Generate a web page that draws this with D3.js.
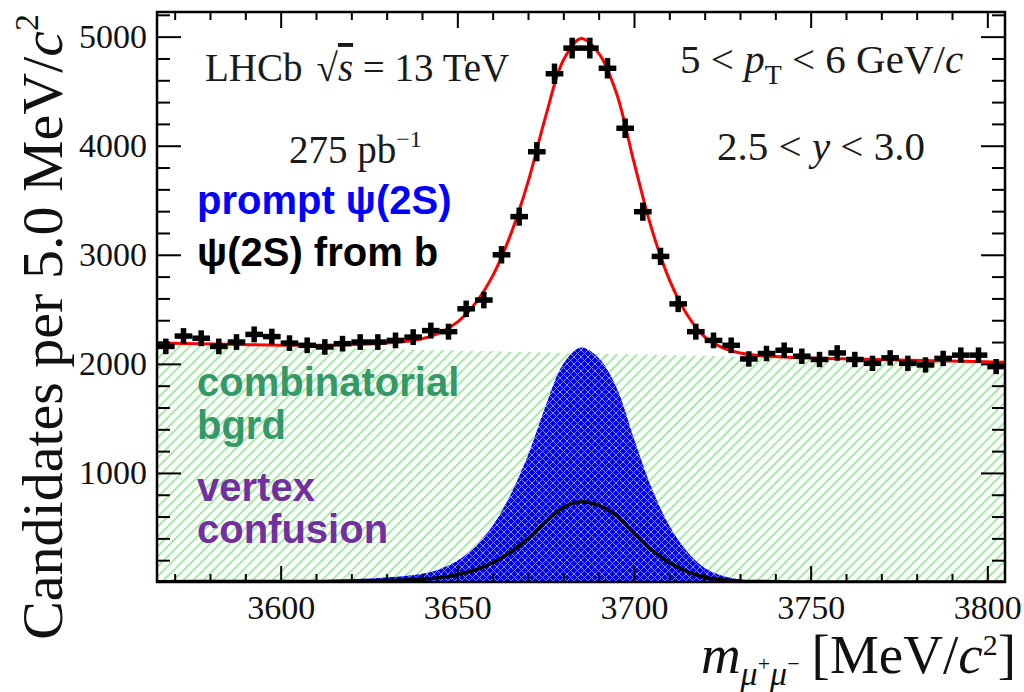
<!DOCTYPE html>
<html>
<head>
<meta charset="utf-8">
<script src="https://cdn.jsdelivr.net/npm/d3@7"></script>
<style>
  body { margin: 0; background: #fff; }
</style>
</head>
<body>
<div id="chart"></div>
<script>
// measured bins, 5 MeV wide
const binCenters = [3567.5, 3572.5, 3577.5, 3582.5, 3587.5, 3592.5, 3597.5, 3602.5, 3607.5, 3612.5,
    3617.5, 3622.5, 3627.5, 3632.5, 3637.5, 3642.5, 3647.5, 3652.5, 3657.5, 3662.5,
    3667.5, 3672.5, 3677.5, 3682.5, 3687.5, 3692.5, 3697.5, 3702.5, 3707.5, 3712.5,
    3717.5, 3722.5, 3727.5, 3732.5, 3737.5, 3742.5, 3747.5, 3752.5, 3757.5, 3762.5,
    3767.5, 3772.5, 3777.5, 3782.5, 3787.5, 3792.5, 3797.5, 3802.5];
const counts = [2160, 2255, 2235, 2160, 2200, 2270, 2250, 2190, 2170, 2155,
    2185, 2200, 2200, 2215, 2245, 2305, 2295, 2505, 2585, 3000,
    3350, 3945, 4660, 4895, 4895, 4710, 4160, 3395, 2985, 2550,
    2295, 2215, 2170, 2045, 2095, 2125, 2070, 2040, 2100, 2040,
    2005, 2055, 2005, 1990, 2050, 2080, 2080, 1975];

// fit components, sampled along the mass axis
const modelMass = [3565, 3585, 3605, 3625, 3635, 3640, 3645, 3650, 3655, 3660,
    3665, 3670, 3675, 3680, 3685, 3690, 3695, 3700, 3705, 3710,
    3715, 3720, 3725, 3730, 3735, 3745, 3765, 3785, 3805];
const bkgCurve = [2180, 2166, 2153, 2139, 2132, 2129, 2125, 2122, 2118, 2115,
    2111, 2108, 2105, 2101, 2098, 2094, 2091, 2087, 2084, 2081,
    2077, 2074, 2070, 2067, 2063, 2056, 2043, 2029, 2015];
const promptCurve = [9, 11, 13, 32, 54, 75, 118, 194, 323, 516,
    796, 1161, 1613, 2000, 2150, 2053, 1785, 1312, 860, 516,
    280, 129, 58, 24, 11, 2, 0, 0, 0];
const fromBCurve = [3, 4, 4, 11, 18, 26, 40, 66, 110, 176,
    272, 397, 551, 684, 735, 702, 610, 448, 294, 176,
    96, 44, 20, 8, 4, 1, 0, 0, 0];
const totalCurve = [2192, 2180, 2170, 2182, 2204, 2230, 2284, 2382, 2551, 2807,
    3178, 3666, 4269, 4784, 4983, 4849, 4486, 3847, 3238, 2773,
    2452, 2247, 2148, 2099, 2077, 2059, 2043, 2029, 2015];

const xMajorTicks = [3600, 3650, 3700, 3750, 3800];
const xMinorTicks = [3570, 3580, 3590, 3610, 3620, 3630, 3640, 3660, 3670, 3680, 3690,
    3710, 3720, 3730, 3740, 3760, 3770, 3780, 3790];
const yMajorTicks = [1000, 2000, 3000, 4000, 5000];
const yMinorTicks = [200, 400, 600, 800, 1200, 1400, 1600, 1800, 2200, 2400, 2600, 2800,
    3200, 3400, 3600, 3800, 4200, 4400, 4600, 4800, 5200];
const binHalf = 2.5;

var width = 1024, height = 692;
var padL = 157, padR = 1005, padT = 12, padB = 582;
var serif = "'Liberation Serif', 'Times New Roman', serif";
var sans = "'Liberation Sans', Arial, sans-serif";

var svg = d3.select("#chart").append("svg")
    .attr("width", width)
    .attr("height", height);

var x = d3.scaleLinear().domain([3565, 3805]).range([padL, padR]);
var y = d3.scaleLinear().domain([0, 5226]).range([padB, padT]);

var defs = svg.append("defs");

// green hatch for the combinatorial background
var hatch = defs.append("pattern")
    .attr("id", "hatch")
    .attr("patternUnits", "userSpaceOnUse")
    .attr("width", 7).attr("height", 7)
    .attr("patternTransform", "rotate(45)");
hatch.append("rect").attr("width", 7).attr("height", 7).attr("fill", "#fff");
hatch.append("line")
    .attr("x1", 1).attr("y1", 0).attr("x2", 1).attr("y2", 7)
    .attr("stroke", "#a4eaa4").attr("stroke-width", 2);

// blue cross-hatch for prompt
var cross = defs.append("pattern")
    .attr("id", "cross")
    .attr("patternUnits", "userSpaceOnUse")
    .attr("width", 7).attr("height", 7);
cross.append("rect").attr("width", 7).attr("height", 7).attr("fill", "#0000f2");
cross.append("path")
    .attr("d", "M0,0L7,7M7,0L0,7")
    .attr("stroke", "#ffffff").attr("stroke-width", 1).attr("opacity", 0.55);

defs.append("clipPath").attr("id", "plotClip")
    .append("rect")
    .attr("x", padL).attr("y", padT)
    .attr("width", padR - padL).attr("height", padB - padT);

var g = svg.append("g").attr("clip-path", "url(#plotClip)");

var model = modelMass.map(function (m, i) {
    return { m: m, bkg: bkgCurve[i], prompt: promptCurve[i], b: fromBCurve[i], total: totalCurve[i] };
});

// background area
g.append("path")
    .datum(model)
    .attr("fill", "url(#hatch)")
    .attr("d", d3.area()
        .x(function (d) { return x(d.m); })
        .y0(y(0))
        .y1(function (d) { return y(d.bkg); }));

// prompt area
g.append("path")
    .datum(model)
    .attr("fill", "url(#cross)")
    .attr("d", d3.area()
        .curve(d3.curveCatmullRom)
        .x(function (d) { return x(d.m); })
        .y0(y(0))
        .y1(function (d) { return y(d.prompt); }));

// from-b line
g.append("path")
    .datum(model)
    .attr("fill", "none")
    .attr("stroke", "#000")
    .attr("stroke-width", 3.5)
    .attr("d", d3.line()
        .curve(d3.curveCatmullRom)
        .x(function (d) { return x(d.m); })
        .y(function (d) { return y(d.b); }));

// total fit
g.append("path")
    .datum(model)
    .attr("fill", "none")
    .attr("stroke", "#ff0000")
    .attr("stroke-width", 3)
    .attr("d", d3.line()
        .curve(d3.curveCatmullRom)
        .x(function (d) { return x(d.m); })
        .y(function (d) { return y(d.total); }));

// data points
var data = binCenters.map(function (c, i) { return { c: c, n: counts[i] }; });
var pts = g.selectAll(".pt").data(data).enter().append("g").attr("class", "pt");
pts.append("line")
    .attr("x1", function (d) { return x(d.c - binHalf); })
    .attr("x2", function (d) { return x(d.c + binHalf); })
    .attr("y1", function (d) { return y(d.n); })
    .attr("y2", function (d) { return y(d.n); })
    .attr("stroke", "#000").attr("stroke-width", 5.5);
pts.append("line")
    .attr("x1", function (d) { return x(d.c); })
    .attr("x2", function (d) { return x(d.c); })
    .attr("y1", function (d) { return y(d.n + Math.sqrt(d.n)); })
    .attr("y2", function (d) { return y(d.n - Math.sqrt(d.n)); })
    .attr("stroke", "#000").attr("stroke-width", 5.5)
    .attr("stroke-linecap", "square");

// axes, ticks pointing inward
function tidy(sel) {
    sel.select(".domain").remove();
    sel.selectAll(".tick line").attr("stroke", "#000").attr("stroke-width", 2);
}
var fmt = d3.format("d");

svg.append("g").attr("transform", "translate(0," + padB + ")")
    .call(d3.axisBottom(x).tickValues(xMajorTicks).tickSize(-16).tickPadding(13).tickFormat(fmt))
    .call(tidy)
    .selectAll("text")
    .attr("font-family", serif).attr("font-size", 34).attr("fill", "#111");
svg.append("g").attr("transform", "translate(0," + padB + ")")
    .call(d3.axisBottom(x).tickValues(xMinorTicks).tickSize(-8).tickFormat(""))
    .call(tidy);
svg.append("g").attr("transform", "translate(0," + padT + ")")
    .call(d3.axisTop(x).tickValues(xMajorTicks).tickSize(-16).tickFormat(""))
    .call(tidy);
svg.append("g").attr("transform", "translate(0," + padT + ")")
    .call(d3.axisTop(x).tickValues(xMinorTicks).tickSize(-8).tickFormat(""))
    .call(tidy);

svg.append("g").attr("transform", "translate(" + padL + ",0)")
    .call(d3.axisLeft(y).tickValues(yMajorTicks).tickSize(-24).tickPadding(10).tickFormat(fmt))
    .call(tidy)
    .selectAll("text")
    .attr("font-family", serif).attr("font-size", 34).attr("fill", "#111");
svg.append("g").attr("transform", "translate(" + padL + ",0)")
    .call(d3.axisLeft(y).tickValues(yMinorTicks).tickSize(-13).tickFormat(""))
    .call(tidy);
svg.append("g").attr("transform", "translate(" + padR + ",0)")
    .call(d3.axisRight(y).tickValues(yMajorTicks).tickSize(-24).tickFormat(""))
    .call(tidy);
svg.append("g").attr("transform", "translate(" + padR + ",0)")
    .call(d3.axisRight(y).tickValues(yMinorTicks).tickSize(-13).tickFormat(""))
    .call(tidy);

svg.append("rect")
    .attr("x", padL).attr("y", padT)
    .attr("width", padR - padL).attr("height", padB - padT)
    .attr("fill", "none").attr("stroke", "#000").attr("stroke-width", 2.5);

// axis titles
var yt = svg.append("text")
    .attr("transform", "translate(62,14) rotate(-90)")
    .attr("text-anchor", "end")
    .attr("font-family", serif).attr("font-size", 58).attr("fill", "#111");
yt.append("tspan").text("Candidates per  5.0 MeV/");
yt.append("tspan").attr("font-style", "italic").text("c");
yt.append("tspan").attr("font-size", 34).attr("dy", -24).text("2");

var xt = svg.append("text")
    .attr("x", 1016).attr("y", 673)
    .attr("text-anchor", "end")
    .attr("font-family", serif).attr("font-size", 55).attr("fill", "#111");
xt.append("tspan").attr("font-style", "italic").text("m");
xt.append("tspan").attr("font-style", "italic").attr("font-size", 34).attr("dy", 12).text("μ");
xt.append("tspan").attr("font-size", 22).attr("dy", -14).text("+");
xt.append("tspan").attr("font-style", "italic").attr("font-size", 34).attr("dy", 14).text("μ");
xt.append("tspan").attr("font-size", 22).attr("dy", -14).text("−");
xt.append("tspan").attr("dx", 12).attr("dy", 2).text("[MeV/");
xt.append("tspan").attr("font-style", "italic").text("c");
xt.append("tspan").attr("font-size", 30).attr("dy", -18).text("2");
xt.append("tspan").attr("dy", 18).text("]");

// LHCb labels
var lhcb = svg.append("text")
    .attr("x", 205).attr("y", 81)
    .attr("font-family", serif).attr("font-size", 39).attr("fill", "#1a1a1a");
lhcb.append("tspan").text("LHCb");
lhcb.append("tspan").attr("dx", 14).text("√");
lhcb.append("tspan").attr("font-style", "italic").attr("text-decoration", "overline").text("s");
lhcb.append("tspan").text(" = 13 TeV");

var lumi = svg.append("text")
    .attr("x", 289).attr("y", 163)
    .attr("font-family", serif).attr("font-size", 39).attr("fill", "#1a1a1a");
lumi.append("tspan").text("275 pb");
lumi.append("tspan").attr("font-size", 24).attr("dy", -16).text("−1");

var pt = svg.append("text")
    .attr("x", 680).attr("y", 73)
    .attr("font-family", serif).attr("font-size", 41).attr("fill", "#1a1a1a");
pt.append("tspan").text("5 < ");
pt.append("tspan").attr("font-style", "italic").text("p");
pt.append("tspan").attr("font-size", 28).attr("dy", 11).text("T");
pt.append("tspan").attr("dy", -11).text(" < 6 GeV/");
pt.append("tspan").attr("font-style", "italic").text("c");

var rap = svg.append("text")
    .attr("x", 717).attr("y", 160)
    .attr("font-family", serif).attr("font-size", 41).attr("fill", "#1a1a1a");
rap.append("tspan").text("2.5 < ");
rap.append("tspan").attr("font-style", "italic").text("y");
rap.append("tspan").text(" < 3.0");

// component labels
var labels = [
    { t: "prompt ψ(2S)", x: 197, y: 214, c: "#0000ff" },
    { t: "ψ(2S) from b", x: 197, y: 266, c: "#000000" },
    { t: "combinatorial", x: 197, y: 396, c: "#359868" },
    { t: "bgrd", x: 197, y: 439, c: "#359868" },
    { t: "vertex", x: 197, y: 501, c: "#7030a0" },
    { t: "confusion", x: 197, y: 543, c: "#7030a0" }
];
svg.selectAll(".lab").data(labels).enter().append("text")
    .attr("class", "lab")
    .attr("x", function (d) { return d.x; })
    .attr("y", function (d) { return d.y; })
    .attr("font-family", sans).attr("font-weight", "bold").attr("font-size", 40)
    .attr("fill", function (d) { return d.c; })
    .text(function (d) { return d.t; });
</script>
</body>
</html>
